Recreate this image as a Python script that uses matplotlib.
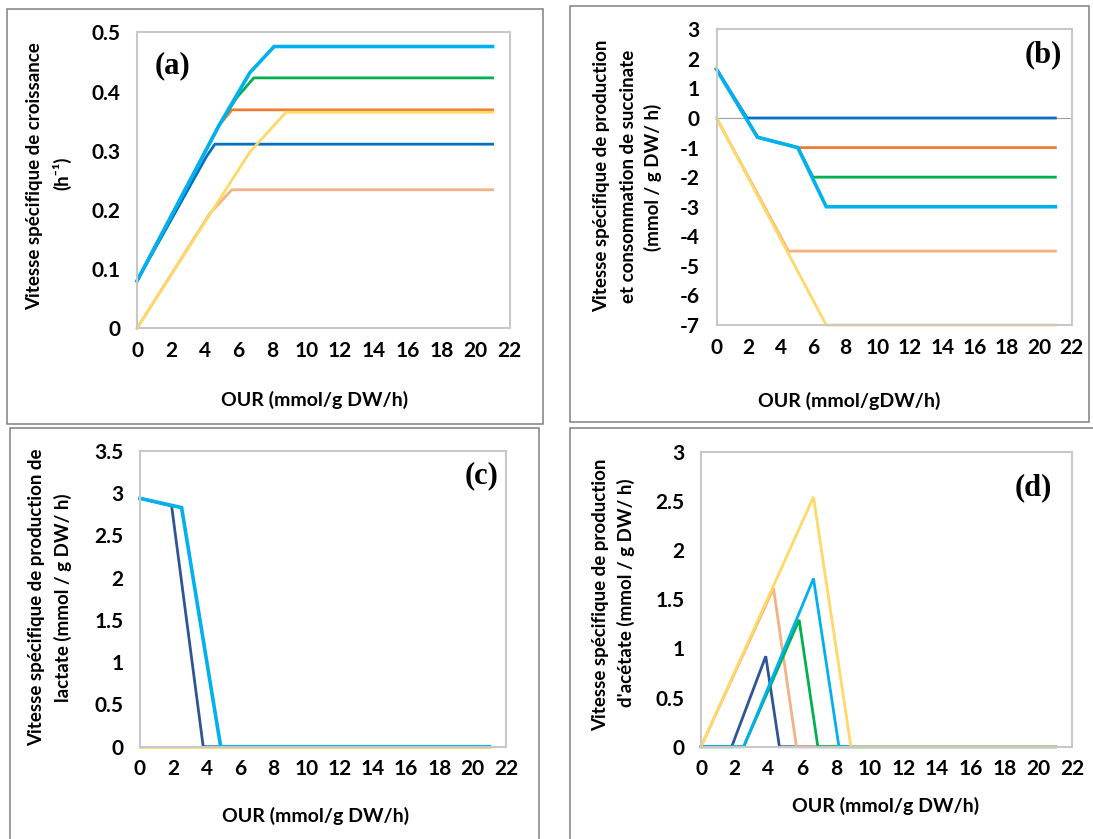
import matplotlib
matplotlib.use("Agg")
import matplotlib.pyplot as plt
from matplotlib.patches import Rectangle
from matplotlib.ticker import FuncFormatter

plt.rcParams["font.family"] = ["Lato", "DejaVu Sans"]
plt.rcParams["axes.unicode_minus"] = False

W, H = 1093, 839

# colours of the series (Excel palette)
c_blue = "#0070C0"
c_navy = "#2F5597"
c_orange = "#ED7D31"
c_green = "#00B050"
c_cyan = "#00B0F0"
c_salmon = "#F4B183"
c_yellow = "#FFD966"

# (a) growth rate
a_blue_x = [0, 4.1, 4.6, 21]
a_blue_y = [0.08, 0.29, 0.311, 0.311]
a_orange_x = [0, 4.85, 5.6, 21]
a_orange_y = [0.08, 0.343, 0.369, 0.369]
a_green_x = [0, 4.85, 5.9, 6.9, 21]
a_green_y = [0.08, 0.343, 0.39, 0.423, 0.423]
a_cyan_x = [0, 4.85, 6.67, 8.1, 21]
a_cyan_y = [0.08, 0.343, 0.432, 0.476, 0.476]
a_salmon_x = [0, 4.3, 5.6, 21]
a_salmon_y = [0, 0.194, 0.234, 0.234]
a_yellow_x = [0, 6.67, 8.8, 21]
a_yellow_y = [0, 0.298, 0.365, 0.365]

# (b) succinate
b_blue_x = [0, 1.9, 21]
b_blue_y = [1.65, 0, 0]
b_orange_x = [0, 2.54, 5.04, 21]
b_orange_y = [1.65, -0.65, -1, -1]
b_green_x = [0, 2.54, 5.04, 5.98, 21]
b_green_y = [1.65, -0.65, -1, -2, -2]
b_cyan_x = [0, 2.54, 5.04, 6.8, 21]
b_cyan_y = [1.65, -0.65, -1, -3, -3]
b_salmon_x = [0, 4.46, 21]
b_salmon_y = [0, -4.5, -4.5]
b_yellow_x = [0, 6.8, 21]
b_yellow_y = [0, -7, -7]

# (c) lactate
c_navy_x = [0, 1.9, 3.8, 21]
c_navy_y = [2.94, 2.85, 0, 0]
c_cyan_x = [0, 2.5, 4.85, 21]
c_cyan_y = [2.94, 2.83, 0, 0]
c_yellow_x = [0, 21]
c_yellow_y = [0, 0]

# (d) acetate
d_navy_x = [0, 1.82, 3.84, 4.65, 21]
d_navy_y = [0, 0, 0.92, 0, 0]
d_salmon_x = [0, 4.3, 5.66, 21]
d_salmon_y = [0, 1.61, 0, 0]
d_green_x = [0, 2.53, 5.82, 6.93, 21]
d_green_y = [0, 0, 1.29, 0, 0]
d_cyan_x = [0, 2.53, 6.67, 8.18, 21]
d_cyan_y = [0, 0, 1.71, 0, 0]
d_yellow_x = [0, 6.67, 8.89, 21]
d_yellow_y = [0, 2.54, 0, 0]

x_ticks = list(range(0, 23, 2))

fig = plt.figure(figsize=(W / 100, H / 100), dpi=100)


def px_axes(l, t, r, b):
    return fig.add_axes([l / W, 1 - b / H, (r - l) / W, (b - t) / H])


def px_text(x, y, s, **kw):
    fig.text(x / W, 1 - y / H, s, ha="center", va="center", **kw)


def box(l, t, r, b):
    fig.add_artist(Rectangle((l / W, 1 - b / H), (r - l) / W, (b - t) / H,
                             transform=fig.transFigure, fill=False,
                             edgecolor="#808080", lw=1.1))


def style(ax, ylim, yticks):
    ax.set_xlim(0, 22)
    ax.set_ylim(*ylim)
    ax.set_xticks(x_ticks)
    ax.set_yticks(yticks)
    ax.yaxis.set_major_formatter(FuncFormatter(lambda v, p: f"{v:g}"))
    for s in ax.spines.values():
        s.set_color("#C8C8C8")
        s.set_linewidth(1.5)
    ax.tick_params(length=0, labelsize=15)
    ax.tick_params(axis="x", pad=9)
    ax.tick_params(axis="y", pad=12)
    for lab in ax.get_xticklabels() + ax.get_yticklabels():
        lab.set_fontweight("bold")


def line(ax, x, y, color, lw):
    ax.plot(x, y, color=color, lw=lw, clip_on=False, solid_joinstyle="miter")


box(7, 9, 543, 424)
box(570, 6, 1089, 422)
box(10, 428, 539, 845)
box(570, 428, 1100, 845)

thin = 2.0
thick = 2.6

# (a)
ax = px_axes(137, 32.3, 509.5, 328.3)
line(ax, a_blue_x, a_blue_y, c_blue, thin)
line(ax, a_orange_x, a_orange_y, c_orange, thin)
line(ax, a_green_x, a_green_y, c_green, thin)
line(ax, a_salmon_x, a_salmon_y, c_salmon, thin)
line(ax, a_yellow_x, a_yellow_y, c_yellow, thin)
line(ax, a_cyan_x, a_cyan_y, c_cyan, thick)
style(ax, (0, 0.5), [0, 0.1, 0.2, 0.3, 0.4, 0.5])

# (b)
ax = px_axes(716.5, 29.3, 1071.5, 325)
ax.axhline(0, color="#A0A0A0", lw=0.8)
line(ax, b_blue_x, b_blue_y, c_blue, thin)
line(ax, b_orange_x, b_orange_y, c_orange, thin)
line(ax, b_green_x, b_green_y, c_green, thin)
line(ax, b_salmon_x, b_salmon_y, c_salmon, thin)
line(ax, b_yellow_x, b_yellow_y, c_yellow, thin)
line(ax, b_cyan_x, b_cyan_y, c_cyan, thick)
style(ax, (-7, 3), list(range(-7, 4)))

# (c)
ax = px_axes(140, 451, 506, 746.7)
line(ax, c_navy_x, c_navy_y, c_navy, thin)
line(ax, c_cyan_x, c_cyan_y, c_cyan, thick)
line(ax, c_yellow_x, c_yellow_y, c_yellow, thin)
style(ax, (0, 3.5), [0, 0.5, 1, 1.5, 2, 2.5, 3, 3.5])

# (d)
ax = px_axes(701, 451.7, 1072, 746.7)
line(ax, d_navy_x, d_navy_y, c_navy, thin)
line(ax, d_salmon_x, d_salmon_y, c_salmon, thin)
line(ax, d_green_x, d_green_y, c_green, thin)
line(ax, d_cyan_x, d_cyan_y, c_cyan, thin)
line(ax, d_yellow_x, d_yellow_y, c_yellow, thin)
style(ax, (0, 3), [0, 0.5, 1, 1.5, 2, 2.5, 3])

lab = dict(fontsize=14, fontweight="bold")
ylab = dict(fontsize=13.5, fontweight="bold", rotation=90)

px_text(315, 400, "OUR (mmol/g DW/h)", **lab)
px_text(849, 401, "OUR (mmol/gDW/h)", **lab)
px_text(316, 816, "OUR (mmol/g DW/h)", **lab)
px_text(886, 806, "OUR (mmol/g DW/h)", **lab)

px_text(35, 176, "Vitesse spécifique de croissance", **ylab)
px_text(62, 173, "(h⁻¹)", **ylab)
px_text(602, 176, "Vitesse spécifique de production", **ylab)
px_text(628, 176, "et consommation de succinate", **ylab)
px_text(653, 177, "(mmol / g DW/ h)", **ylab)
px_text(37, 597, "Vitesse spécifique de production de", **ylab)
px_text(63, 598, "lactate (mmol / g DW/ h)", **ylab)
px_text(601, 595, "Vitesse spécifique de production", **ylab)
px_text(626, 593, "d'acétate (mmol / g DW/ h)", **ylab)

tag = dict(fontsize=22, fontweight="bold", family="Liberation Serif")
px_text(172, 66, "(a)", **tag)
px_text(1043, 55, "(b)", **tag)
px_text(482, 476, "(c)", **tag)
px_text(1033, 488, "(d)", **tag)

fig.savefig("out.png", dpi=100)
